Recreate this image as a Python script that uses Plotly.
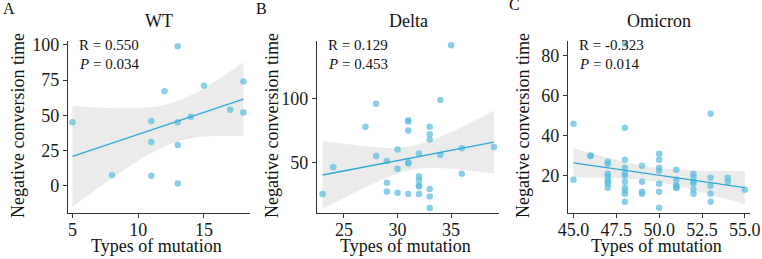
import numpy as np
import plotly.graph_objects as go

# ---------------- data ----------------
wt_x = [5, 8, 11, 11, 11, 12, 13, 13, 13, 13, 14, 15, 17, 18, 18]
wt_y = [45, 7.5, 46, 31, 7, 67, 99, 45, 29, 1.5, 49, 71, 54, 74, 52]

delta_x = [23, 24, 27, 28, 28, 29, 29, 29, 30, 30, 30, 31, 31, 31, 31, 31, 31,
           32, 32, 32, 32, 32, 32, 33, 33, 33, 33, 33, 33, 34, 34, 35, 36, 36, 39]
delta_y = [25, 46, 78, 96, 55, 51, 34, 27, 60, 45, 26, 83, 82, 75, 50, 49, 25,
           57, 39, 36, 32, 31, 25, 78, 72, 68, 29, 23, 14, 99, 56, 142, 61, 41, 62]

omi_x = [45, 45, 46, 46,
         47, 47, 47, 47, 47, 47, 47, 47,
         48, 48, 48, 48, 48, 48, 48, 48, 48, 48, 48,
         49, 49, 49, 49,
         50, 50, 50, 50, 50, 50, 50,
         51, 51, 51, 51, 51, 51,
         52, 52, 52, 52, 52, 52,
         53, 53, 53, 53, 53,
         54, 54, 55]
omi_y = [46, 18, 30, 30,
         27, 26, 21, 20, 18, 17, 16, 14,
         86, 44, 28, 24, 21, 20, 17, 14, 12.5, 11, 7,
         25, 17, 12, 11,
         31, 28, 24, 22.5, 16, 12, 4,
         23, 18, 15, 14, 15, 14,
         21, 19.5, 17, 16, 13, 11,
         51, 19, 15, 11, 7,
         19, 17, 13]

titles = ["WT", "Delta", "Omicron"]
letters = ["A", "B", "C"]
stats_r = ["R = 0.550", "R = 0.129", "R = -0.323"]
stats_p = ["0.034", "0.453", "0.014"]
x_ticks = [[5, 10, 15], [25, 30, 35], [45, 47.5, 50, 52.5, 55]]
y_ticks = [[0, 25, 50, 75, 100], [50, 100], [20, 40, 60, 80]]

# ---------------- layout constants ----------------
W, H = 762, 259
x_px = [(68, 250), (317, 499), (568, 750)]
y_px = (40.5, 212.5)
x_ranges = [[4.66, 18.5], [22.48, 39.47], [44.68, 55.3]]
y_ranges = [[-19.0, 103.1], [10.5, 145.8], [1.6, 87.6]]

FONT = "Liberation Serif, Times New Roman, serif"
PT_COLOR = "rgba(90,190,222,0.72)"
LINE_COLOR = "#2fa8d6"
BAND_COLOR = "rgba(210,210,210,0.45)"
AX_COLOR = "#333333"


def t_quant(df, z=1.959964):
    # Cornish-Fisher expansion for Student t 97.5% quantile
    return (z + (z**3 + z) / (4 * df)
            + (5 * z**5 + 16 * z**3 + 3 * z) / (96 * df**2)
            + (3 * z**7 + 19 * z**5 + 17 * z**3 - 15 * z) / (384 * df**3))


def fit_band(x, y):
    x = np.asarray(x, float)
    y = np.asarray(y, float)
    n = len(x)
    xm, ym = x.mean(), y.mean()
    sxx = ((x - xm) ** 2).sum()
    b = ((x - xm) * (y - ym)).sum() / sxx
    a = ym - b * xm
    resid = y - (a + b * x)
    s = np.sqrt((resid ** 2).sum() / (n - 2))
    g = np.linspace(x.min(), x.max(), 80)
    fit = a + b * g
    se = s * np.sqrt(1 / n + (g - xm) ** 2 / sxx)
    t = t_quant(n - 2)
    return g, fit, fit - t * se, fit + t * se


fig = go.Figure()
datasets = [(wt_x, wt_y), (delta_x, delta_y), (omi_x, omi_y)]
annotations = []
y_dom = [(H - y_px[1]) / H, (H - y_px[0]) / H]

for i, (xs, ys) in enumerate(datasets):
    sfx = "" if i == 0 else str(i + 1)
    xa, ya = "x" + sfx, "y" + sfx
    g, fit, lo, hi = fit_band(xs, ys)
    fig.add_trace(go.Scatter(x=np.concatenate([g, g[::-1]]),
                             y=np.concatenate([hi, lo[::-1]]),
                             fill="toself", fillcolor=BAND_COLOR,
                             line=dict(width=0), mode="lines",
                             hoverinfo="skip", showlegend=False,
                             xaxis=xa, yaxis=ya))
    fig.add_trace(go.Scatter(x=xs, y=ys, mode="markers",
                             marker=dict(size=6.5, color=PT_COLOR, line=dict(width=0)),
                             showlegend=False, xaxis=xa, yaxis=ya))
    fig.add_trace(go.Scatter(x=g, y=fit, mode="lines",
                             line=dict(color=LINE_COLOR, width=1.3),
                             showlegend=False, xaxis=xa, yaxis=ya))

    x0, x1 = x_px[i]
    axis_common = dict(showline=True, linecolor=AX_COLOR, linewidth=1.4,
                       ticks="outside", ticklen=4, tickwidth=1.3, tickcolor=AX_COLOR,
                       showgrid=False, zeroline=False, automargin=False,
                       tickfont=dict(family=FONT, size=18, color="#1a1a1a"))
    fig.update_layout(**{
        "xaxis" + sfx: dict(domain=[x0 / W, x1 / W], range=x_ranges[i],
                            anchor=ya, tickvals=x_ticks[i], ticklabelstandoff=-3,
                            tickformat=".1f" if i == 2 else "d", **axis_common),
        "yaxis" + sfx: dict(domain=y_dom, range=y_ranges[i], anchor=xa,
                            tickvals=y_ticks[i], **axis_common),
    })

    cx = (x0 + x1) / 2
    # panel title
    annotations.append(dict(text=titles[i], x=cx / W, y=1 - 21 / H, xref="paper", yref="paper",
                            showarrow=False, xanchor="center", yanchor="middle",
                            font=dict(family=FONT, size=18, color="#111")))
    # x title
    annotations.append(dict(text="Types of mutation", x=(cx - 3) / W, y=1 - 246 / H,
                            xref="paper", yref="paper", showarrow=False,
                            xanchor="center", yanchor="middle",
                            font=dict(family=FONT, size=18, color="#111")))
    # y title
    ytx = [18, 272, 523][i]
    annotations.append(dict(text="Negative conversion time", x=ytx / W, y=1 - 126 / H,
                            xref="paper", yref="paper", showarrow=False, textangle=-90,
                            xanchor="center", yanchor="middle",
                            font=dict(family=FONT, size=18, color="#111")))
    # stats
    annotations.append(dict(text=stats_r[i], x=(x0 + 9) / W, y=1 - 44.5 / H,
                            xref="paper", yref="paper", showarrow=False,
                            xanchor="left", yanchor="middle",
                            font=dict(family=FONT, size=15, color="#111")))
    annotations.append(dict(text="<i>P</i> = " + stats_p[i], x=(x0 + 9) / W, y=1 - 63.5 / H,
                            xref="paper", yref="paper", showarrow=False,
                            xanchor="left", yanchor="middle",
                            font=dict(family=FONT, size=15, color="#111")))
    # panel letter
    lx = [1, 254, 507][i]
    ly = [8, 8, 5][i]
    annotations.append(dict(text=letters[i], x=lx / W, y=1 - ly / H,
                            xref="paper", yref="paper", showarrow=False,
                            xanchor="left", yanchor="middle",
                            font=dict(family=FONT, size=16, color="#111")))

fig.update_layout(width=W, height=H, margin=dict(l=0, r=0, t=0, b=0),
                  paper_bgcolor="white", plot_bgcolor="white",
                  annotations=annotations, showlegend=False)

fig.write_html("out.html", config={"displayModeBar": False},
               post_script="document.body.style.margin='0';"
                           "document.body.style.padding='0';"
                           "document.body.style.overflow='hidden';")
